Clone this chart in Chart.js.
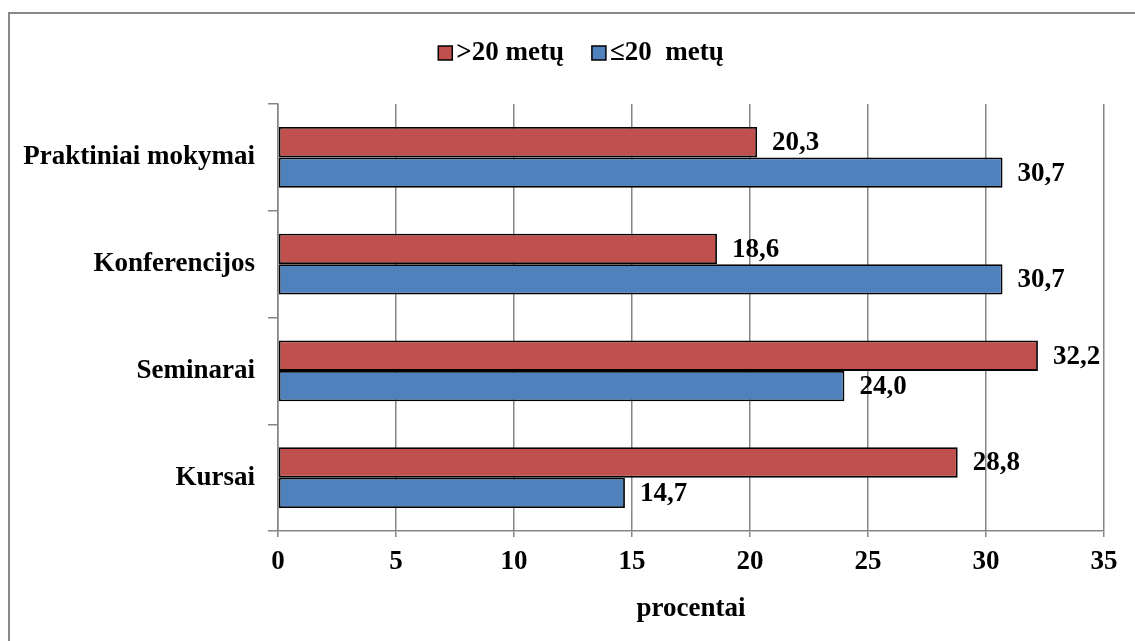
<!DOCTYPE html>
<html>
<head>
<meta charset="utf-8">
<script src="https://cdn.jsdelivr.net/npm/chart.js@4"></script>
<style>
  html, body { margin: 0; padding: 0; background: #ffffff; }
  #wrap { position: relative; width: 1135px; height: 641px; overflow: hidden; }
  #frame { position: absolute; left: 8px; top: 12px; width: 1200px; height: 700px;
           border-left: 2px solid #898989; border-top: 2px solid #898989; box-sizing: border-box; }
  canvas { position: absolute; left: 0; top: 0; }
</style>
</head>
<body>
<div id="wrap">
  <div id="frame"></div>
  <canvas id="c" width="1135" height="641"></canvas>
</div>
<script>
const categories = ["Praktiniai mokymai", "Konferencijos", "Seminarai", "Kursai"];
const seriesOver20 = [20.3, 18.6, 32.2, 28.8];
const seriesUpTo20 = [30.7, 30.7, 24.0, 14.7];
const seriesNames = [">20 metų", "≤20  metų"];
const xTicks = [0, 5, 10, 15, 20, 25, 30, 35];
const xTitle = "procentai";

const FONT = "'Liberation Serif', 'Times New Roman', serif";
const FS = 27;
const RED = "#C0504D";
const BLUE = "#4F81BD";
const GRID = "#868686";

const labelPlugin = {
  id: 'barLabels',
  afterDatasetsDraw(chart) {
    const ctx = chart.ctx;
    ctx.save();
    ctx.font = "bold " + FS + "px " + FONT;
    ctx.fillStyle = "#000";
    ctx.textAlign = "left";
    ctx.textBaseline = "middle";
    chart.data.datasets.forEach((ds, i) => {
      const meta = chart.getDatasetMeta(i);
      meta.data.forEach((el, j) => {
        const v = ds.data[j];
        ctx.fillText(v.toFixed(1).replace('.', ','), el.x + 15, el.y + 1);
      });
    });
    ctx.restore();
  }
};

const legendPlugin = {
  id: 'customLegend',
  afterDraw(chart) {
    const ctx = chart.ctx;
    ctx.save();
    ctx.font = "bold " + FS + "px " + FONT;
    ctx.textBaseline = "middle";
    ctx.textAlign = "left";
    const box = 14, gapBox = 4, gapItem = 28;
    const widths = chart.data.datasets.map(d => box + gapBox + ctx.measureText(d.label).width);
    const total = widths.reduce((a, b) => a + b, 0) + gapItem * (widths.length - 1);
    let x = 581 - total / 2;
    const y = 53;
    chart.data.datasets.forEach((d, i) => {
      ctx.fillStyle = d.backgroundColor;
      ctx.fillRect(x, y - box / 2, box, box);
      ctx.strokeStyle = "#000";
      ctx.lineWidth = 1.5;
      ctx.strokeRect(x, y - box / 2, box, box);
      ctx.fillStyle = "#000";
      ctx.fillText(d.label, x + box + gapBox, y);
      x += widths[i] + gapItem;
    });
    ctx.restore();
  }
};

new Chart(document.getElementById('c'), {
  type: 'bar',
  data: {
    labels: categories,
    datasets: [
      { label: seriesNames[0], data: seriesOver20, backgroundColor: RED, borderColor: "#000", borderWidth: 1.8, borderSkipped: false },
      { label: seriesNames[1], data: seriesUpTo20, backgroundColor: BLUE, borderColor: "#000", borderWidth: 1.8, borderSkipped: false }
    ]
  },
  options: {
    indexAxis: 'y',
    responsive: false,
    animation: false,
    devicePixelRatio: 1,
    layout: { padding: { left: 0, top: 104, right: 31, bottom: 0 } },
    datasets: { bar: { categoryPercentage: 0.57, barPercentage: 1.0 } },
    plugins: { legend: { display: false }, tooltip: { enabled: false } },
    scales: {
      x: {
        min: 0, max: 35,
        afterBuildTicks(scale) { scale.ticks = xTicks.map(v => ({ value: v })); },
        afterFit(scale) { scale.height = 110; },
        grid: { color: GRID, lineWidth: 1.5, tickLength: 6, drawTicks: true },
        border: { color: GRID, width: 1.5 },
        ticks: { color: "#000", font: { family: FONT, size: FS, weight: 'bold' }, padding: 9 },
        title: { display: true, text: xTitle, color: "#000", font: { family: FONT, size: FS, weight: 'bold' }, padding: { top: 10, bottom: 16 } }
      },
      y: {
        afterFit(scale) { scale.width = 278; },
        grid: { offset: true, drawOnChartArea: false, drawTicks: true, tickLength: 10, color: GRID, lineWidth: 1.5 },
        border: { color: GRID, width: 1.5 },
        ticks: { color: "#000", font: { family: FONT, size: FS, weight: 'bold' }, padding: 13 }
      }
    }
  },
  plugins: [labelPlugin, legendPlugin]
});
</script>
</body>
</html>
